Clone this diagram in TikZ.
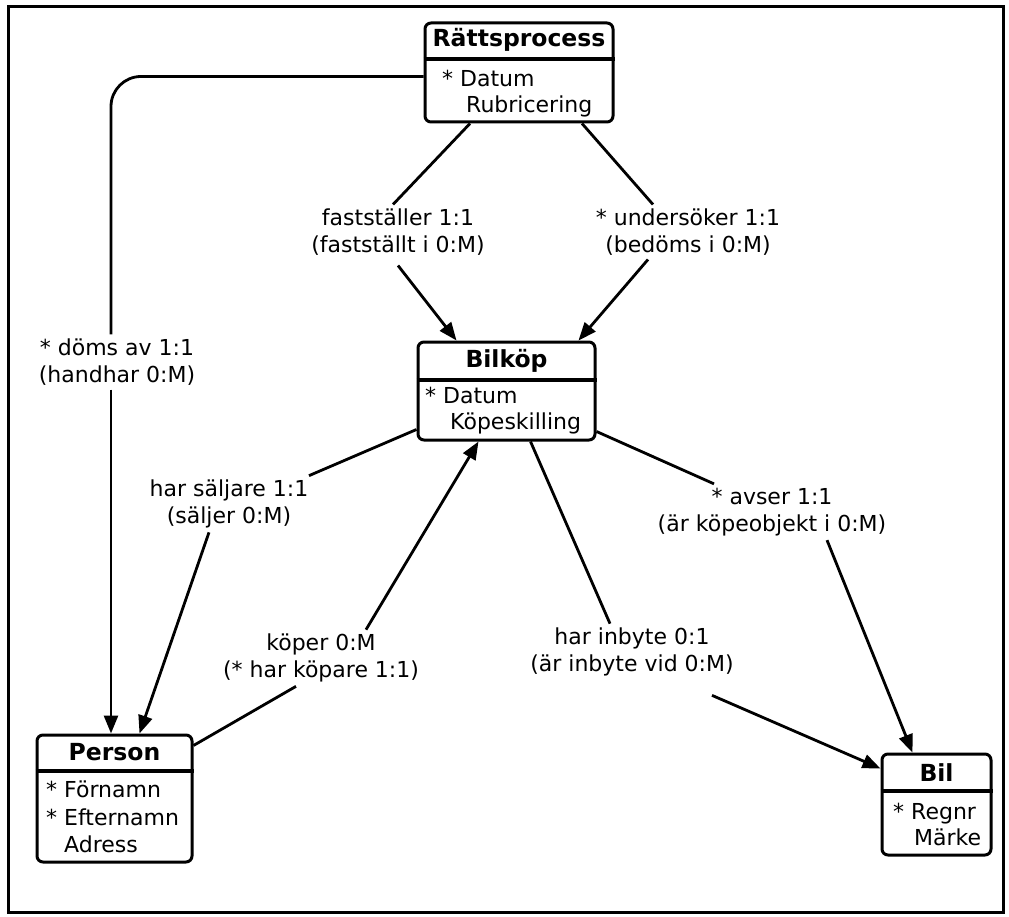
\documentclass[tikz,border=0pt]{standalone}
\usepackage{fontspec}
\setmainfont{DejaVu Sans}
\usetikzlibrary{arrows.meta}

\tikzset{
  classbox/.style={draw,line width=3pt,rounded corners=6pt,inner sep=0pt},
  sepline/.style={line width=3.6pt},
  classtitle/.style={inner sep=0pt,font=\fontsize{23.5}{27}\selectfont\bfseries},
  attr/.style={anchor=west,inner sep=0pt,text height=16pt,text depth=5pt,font=\fontsize{22}{27}\selectfont},
  rolelabel/.style={align=center,inner sep=4pt,font=\fontsize{22}{27}\selectfont},
  assoc/.style={line width=2.8pt},
  assocarrow/.style={assoc,-{Triangle[length=18pt,width=14pt]}}
}

\begin{document}
\begin{tikzpicture}[x=1pt,y=-1pt]
\useasboundingbox (0,0) rectangle (1009,917);
\draw[line width=3pt] (8,7) rectangle (1003,912);
% Classes
\node[classbox,minimum width=188pt,minimum height=99pt] (rp) at (519,72.5) {};
\node[classtitle] (rpT) at (519,40) {Rättsprocess};
\node[attr] (rpA) at (442,81) {* Datum};
\node[attr] (rpB) at (466,107) {Rubricering};
\node[classbox,minimum width=177pt,minimum height=98pt] (bk) at (506.5,391) {};
\node[classtitle] (bkT) at (506.5,361) {Bilköp};
\node[attr] (bkA) at (425,398) {* Datum};
\node[attr] (bkB) at (450,424) {Köpeskilling};
\node[classbox,minimum width=155pt,minimum height=127pt] (pe) at (114.5,798.5) {};
\node[classtitle] (peT) at (114.5,752) {Person};
\node[attr] (peA) at (46,792) {* Förnamn};
\node[attr] (peB) at (46,820) {* Efternamn};
\node[attr] (peC) at (64,847) {Adress};
\node[classbox,minimum width=109pt,minimum height=101pt] (bil) at (936.5,804.5) {};
\node[classtitle] (bilT) at (936.5,773) {Bil};
\node[attr] (bilA) at (893,814) {* Regnr};
\node[attr] (bilB) at (914,840) {Märke};
\foreach \n/\y in {rp/59,bk/380,pe/771,bil/791}
  \draw[sepline] (\n.west |- 0,\y) -- (\n.east |- 0,\y);
% Role labels
\node[rolelabel] (doms) at (117,362) {* döms av 1:1\\(handhar 0:M)};
\node[rolelabel] (fast) at (398,232) {fastställer 1:1\\(fastställt i 0:M)};
\node[rolelabel] (unds) at (688,232) {* undersöker 1:1\\(bedöms i 0:M)};
\node[rolelabel] (salj) at (229,504) {har säljare 1:1\\(säljer 0:M)};
\node[rolelabel] (kop) at (321,658) {köper 0:M\\(* har köpare 1:1)};
\node[rolelabel] (inb) at (632,652) {har inbyte 0:1\\(är inbyte vid 0:M)};
\node[rolelabel] (avs) at (772,512) {* avser 1:1\\(är köpeobjekt i 0:M)};
% Associations
\draw[assoc,rounded corners=30pt] ([yshift=-4pt]rp.west) -| ([xshift=-6pt]doms.north);
\draw[assocarrow] ([xshift=-6pt]doms.south) -- ([xshift=-6pt]doms.south |- pe.north);
\draw[assoc] ([xshift=-49pt]rp.south) -- ([xshift=-5pt]fast.north);
\draw[assocarrow] ([yshift=-6pt]fast.south) -- ([xshift=-50pt]bk.north);
\draw[assoc] ([xshift=63pt]rp.south) -- ([xshift=-35pt]unds.north);
\draw[assocarrow] ([xshift=-40pt]unds.south) -- ([xshift=72pt]bk.north);
\draw[assoc] ([yshift=12pt]bk.south west) -- ([xshift=80pt]salj.north);
\draw[assocarrow] ([xshift=-20pt]salj.south) -- ([xshift=25pt]pe.north);
\draw[assoc] ([yshift=-12pt]pe.north east) -- ([xshift=-25pt]kop.south);
\draw[assocarrow] ([xshift=45pt]kop.north) -- ([xshift=-28pt]bk.south);
\draw[assoc] ([xshift=24pt]bk.south) -- ([xshift=-22pt]inb.north);
\draw[assocarrow] ([xshift=80pt,yshift=-15pt]inb.south) -- ([yshift=-16pt]bil.north west);
\draw[assoc] ([yshift=10pt]bk.south east) -- ([xshift=-58pt]avs.north);
\draw[assocarrow] ([xshift=55pt]avs.south) -- ([xshift=-24pt]bil.north);
\end{tikzpicture}
\end{document}
